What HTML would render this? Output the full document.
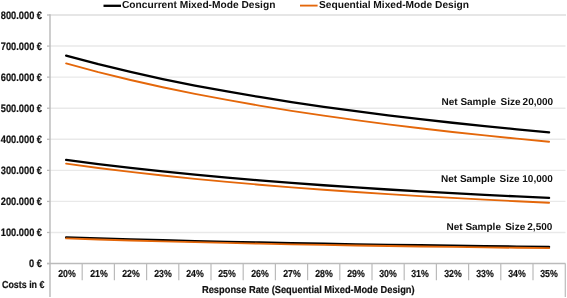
<!DOCTYPE html>
<html><head><meta charset="utf-8">
<style>
html,body{margin:0;padding:0;background:#fff;}
body{width:567px;height:298px;position:relative;overflow:hidden;font-family:"Liberation Sans",sans-serif;font-weight:bold;color:#111;}
svg{position:absolute;left:0;top:0;}
#tl{position:absolute;left:0;top:0;width:567px;height:298px;will-change:transform;}
.t,.yl,.xl{position:absolute;white-space:nowrap;font-size:9.3px;line-height:12px;text-rendering:geometricPrecision;}
.b{font-size:10.2px;}
.n{font-size:10px;}
.yl{right:525px;font-size:10.8px;transform:scaleX(0.86);transform-origin:100% 50%;-webkit-text-stroke:0.2px #111;}
.xl{top:269.3px;width:32px;text-align:center;font-size:10.2px;transform:scaleX(0.86);-webkit-text-stroke:0.2px #111;}
.ax{font-size:10.1px;transform:scaleX(0.88);transform-origin:0 50%;-webkit-text-stroke:0.2px #111;}
</style></head><body>
<svg width="567" height="298" viewBox="0 0 567 298">
<line x1="50" y1="15.0" x2="566" y2="15.0" stroke="#E6E6E6" stroke-width="2"/>
<line x1="50" y1="46.07" x2="565.5" y2="46.07" stroke="#E9E9E9" stroke-width="1.4"/><line x1="50" y1="77.14" x2="565.5" y2="77.14" stroke="#E9E9E9" stroke-width="1.4"/><line x1="50" y1="108.21" x2="565.5" y2="108.21" stroke="#E9E9E9" stroke-width="1.4"/><line x1="50" y1="139.28" x2="565.5" y2="139.28" stroke="#E9E9E9" stroke-width="1.4"/><line x1="50" y1="170.35" x2="565.5" y2="170.35" stroke="#E9E9E9" stroke-width="1.4"/><line x1="50" y1="201.42" x2="565.5" y2="201.42" stroke="#E9E9E9" stroke-width="1.4"/><line x1="50" y1="232.49" x2="565.5" y2="232.49" stroke="#E9E9E9" stroke-width="1.4"/>
<line x1="47" y1="15.00" x2="50" y2="15.00" stroke="#BBBBBB" stroke-width="1.3"/><line x1="47" y1="46.07" x2="50" y2="46.07" stroke="#BBBBBB" stroke-width="1.3"/><line x1="47" y1="77.14" x2="50" y2="77.14" stroke="#BBBBBB" stroke-width="1.3"/><line x1="47" y1="108.21" x2="50" y2="108.21" stroke="#BBBBBB" stroke-width="1.3"/><line x1="47" y1="139.28" x2="50" y2="139.28" stroke="#BBBBBB" stroke-width="1.3"/><line x1="47" y1="170.35" x2="50" y2="170.35" stroke="#BBBBBB" stroke-width="1.3"/><line x1="47" y1="201.42" x2="50" y2="201.42" stroke="#BBBBBB" stroke-width="1.3"/><line x1="47" y1="232.49" x2="50" y2="232.49" stroke="#BBBBBB" stroke-width="1.3"/><line x1="47" y1="263.56" x2="50" y2="263.56" stroke="#BBBBBB" stroke-width="1.3"/>
<line x1="50" y1="14.3" x2="50" y2="297" stroke="#BBBBBB" stroke-width="1.45"/>
<line x1="47" y1="263.56" x2="565.5" y2="263.56" stroke="#BBBBBB" stroke-width="1.4"/>
<line x1="565.3" y1="263.56" x2="565.3" y2="297" stroke="#BBBBBB" stroke-width="1.2"/>
<line x1="82.20" y1="263.56" x2="82.20" y2="280.3" stroke="#BBBBBB" stroke-width="1.2"/><line x1="114.40" y1="263.56" x2="114.40" y2="280.3" stroke="#BBBBBB" stroke-width="1.2"/><line x1="146.60" y1="263.56" x2="146.60" y2="280.3" stroke="#BBBBBB" stroke-width="1.2"/><line x1="178.80" y1="263.56" x2="178.80" y2="280.3" stroke="#BBBBBB" stroke-width="1.2"/><line x1="211.00" y1="263.56" x2="211.00" y2="280.3" stroke="#BBBBBB" stroke-width="1.2"/><line x1="243.20" y1="263.56" x2="243.20" y2="280.3" stroke="#BBBBBB" stroke-width="1.2"/><line x1="275.40" y1="263.56" x2="275.40" y2="280.3" stroke="#BBBBBB" stroke-width="1.2"/><line x1="307.60" y1="263.56" x2="307.60" y2="280.3" stroke="#BBBBBB" stroke-width="1.2"/><line x1="339.80" y1="263.56" x2="339.80" y2="280.3" stroke="#BBBBBB" stroke-width="1.2"/><line x1="372.00" y1="263.56" x2="372.00" y2="280.3" stroke="#BBBBBB" stroke-width="1.2"/><line x1="404.20" y1="263.56" x2="404.20" y2="280.3" stroke="#BBBBBB" stroke-width="1.2"/><line x1="436.40" y1="263.56" x2="436.40" y2="280.3" stroke="#BBBBBB" stroke-width="1.2"/><line x1="468.60" y1="263.56" x2="468.60" y2="280.3" stroke="#BBBBBB" stroke-width="1.2"/><line x1="500.80" y1="263.56" x2="500.80" y2="280.3" stroke="#BBBBBB" stroke-width="1.2"/><line x1="533.00" y1="263.56" x2="533.00" y2="280.3" stroke="#BBBBBB" stroke-width="1.2"/>
<g fill="none" stroke-linejoin="round" stroke-linecap="round">
<path d="M66.10,63.39 L98.30,72.10 L130.50,80.01 L162.70,87.24 L194.90,93.87 L227.10,99.96 L259.30,105.59 L291.50,110.80 L323.70,115.64 L355.90,120.14 L388.10,124.34 L420.30,128.28 L452.50,131.96 L484.70,135.43 L516.90,138.69 L549.10,141.76" stroke="#E4670A" stroke-width="1.85"/>
<path d="M66.10,55.70 L98.30,64.22 L130.50,71.96 L162.70,79.03 L194.90,85.51 L227.10,91.47 L259.30,96.97 L291.50,102.07 L323.70,106.80 L355.90,111.20 L388.10,115.31 L420.30,119.16 L452.50,122.76 L484.70,126.15 L516.90,129.34 L549.10,132.34" stroke="#000" stroke-width="2.3"/>
<path d="M66.10,163.62 L98.30,167.98 L130.50,171.93 L162.70,175.54 L194.90,178.86 L227.10,181.90 L259.30,184.71 L291.50,187.32 L323.70,189.74 L355.90,191.99 L388.10,194.09 L420.30,196.05 L452.50,197.90 L484.70,199.63 L516.90,201.26 L549.10,202.79" stroke="#E4670A" stroke-width="1.85"/>
<path d="M66.10,159.84 L98.30,164.08 L130.50,167.93 L162.70,171.44 L194.90,174.66 L227.10,177.63 L259.30,180.37 L291.50,182.90 L323.70,185.25 L355.90,187.44 L388.10,189.49 L420.30,191.40 L452.50,193.19 L484.70,194.88 L516.90,196.46 L549.10,197.96" stroke="#000" stroke-width="2.3"/>
<path d="M66.10,237.36 L98.30,238.42 L130.50,239.39 L162.70,240.27 L194.90,241.08 L227.10,241.82 L259.30,242.51 L291.50,243.14 L323.70,243.73 L355.90,244.28 L388.10,244.79 L420.30,245.27 L452.50,245.72 L484.70,246.14 L516.90,246.54 L549.10,246.91" stroke="#000" stroke-width="2.3"/>
<path d="M66.10,238.38 L98.30,239.47 L130.50,240.46 L162.70,241.36 L194.90,242.19 L227.10,242.95 L259.30,243.65 L291.50,244.30 L323.70,244.91 L355.90,245.47 L388.10,246.00 L420.30,246.49 L452.50,246.95 L484.70,247.38 L516.90,247.79 L549.10,248.17" stroke="#E4670A" stroke-width="1.85"/>
</g>
<line x1="103.5" y1="5.8" x2="121" y2="5.8" stroke="#000" stroke-width="2.3"/>
<line x1="300" y1="5.6" x2="317.6" y2="5.6" stroke="#E4670A" stroke-width="1.85"/>
</svg>
<div id="tl">
<div class="t b" style="left:122px;top:0px">Concurrent Mixed-Mode Design</div>
<div class="t b" style="left:319px;top:0px">Sequential Mixed-Mode Design</div>
<div class="yl" style="top:9.80px">800.000 €</div><div class="yl" style="top:40.87px">700.000 €</div><div class="yl" style="top:71.94px">600.000 €</div><div class="yl" style="top:103.01px">500.000 €</div><div class="yl" style="top:134.08px">400.000 €</div><div class="yl" style="top:165.15px">300.000 €</div><div class="yl" style="top:196.22px">200.000 €</div><div class="yl" style="top:227.29px">100.000 €</div><div class="yl" style="top:258.36px">0 €</div>
<div class="xl" style="left:50.60px">20%</div><div class="xl" style="left:82.76px">21%</div><div class="xl" style="left:114.92px">22%</div><div class="xl" style="left:147.08px">23%</div><div class="xl" style="left:179.24px">24%</div><div class="xl" style="left:211.40px">25%</div><div class="xl" style="left:243.56px">26%</div><div class="xl" style="left:275.72px">27%</div><div class="xl" style="left:307.88px">28%</div><div class="xl" style="left:340.04px">29%</div><div class="xl" style="left:372.20px">30%</div><div class="xl" style="left:404.36px">31%</div><div class="xl" style="left:436.52px">32%</div><div class="xl" style="left:468.68px">33%</div><div class="xl" style="left:500.84px">34%</div><div class="xl" style="left:533.00px">35%</div>
<div class="t ax" style="left:1.5px;top:279.6px">Costs in €</div>
<div class="t ax" style="left:202px;top:285.1px;transform:scaleX(0.92)">Response Rate (Sequential Mixed-Mode Design)</div>
<div class="t n" style="left:441.5px;top:97px">Net Sample</div><div class="t n" style="left:500.50px;top:97px">Size</div><div class="t n" style="left:522.60px;top:97px">20,000</div>
<div class="t n" style="left:441px;top:173.6px">Net Sample</div><div class="t n" style="left:499.60px;top:173.6px">Size</div><div class="t n" style="left:522.30px;top:173.6px">10,000</div>
<div class="t n" style="left:446.5px;top:222px">Net Sample</div><div class="t n" style="left:505.20px;top:222px">Size</div><div class="t n" style="left:527.30px;top:222px">2,500</div>
</div>
</body></html>
